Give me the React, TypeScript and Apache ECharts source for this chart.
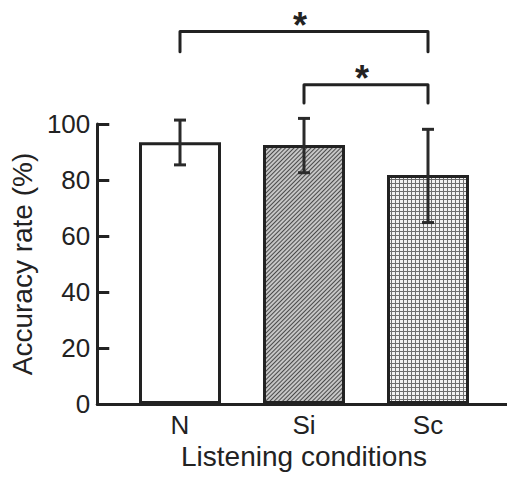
import React, { useEffect, useRef } from "react";
import * as echarts from "echarts";

const categories = ["N", "Si", "Sc"];
const meanValues = [93.5, 92.5, 81.8];
const errLow = [85.4, 82.6, 64.8];
const errHigh = [101.4, 102, 98.1];
const yTicks = [0, 20, 40, 60, 80, 100];
// significance brackets: [fromIndex, toIndex, level, armDrop]
const brackets = [
  [0, 2, 133, 7.2],
  [1, 2, 114, 6.5],
];

const FONT = "Liberation Sans, Arial, Helvetica, sans-serif";
const INK = "#222";

export default function App() {
  const ref = useRef<HTMLDivElement>(null);
  useEffect(() => {
    if (!ref.current) return;
    const chart = echarts.init(ref.current, undefined, { renderer: "svg" });
    const fills = [
      { color: "#ffffff" },
      {
        color: "#c6c6c6",
        decal: {
          symbol: "rect",
          color: "#4a4a4a",
          dashArrayX: [1, 0],
          dashArrayY: [1, 2],
          rotation: -Math.PI / 4,
        },
      },
      {
        color: "#6e6e6e",
        decal: {
          symbol: "rect",
          color: "#f2f2f2",
          dashArrayX: [3, 1],
          dashArrayY: [3, 1],
          rotation: 0,
        },
      },
    ];
    chart.setOption({
      animation: false,
      grid: [
        { left: 97, right: 0, top: 124, bottom: 74 },
        { left: 118, right: 17, top: 124, bottom: 74 },
      ],
      xAxis: [
        {
          gridIndex: 0,
          type: "value",
          min: 0,
          max: 1,
          axisLine: { show: true, lineStyle: { color: INK, width: 3 } },
          axisTick: { show: false },
          axisLabel: { show: false },
          splitLine: { show: false },
        },
        {
          gridIndex: 1,
          type: "category",
          data: categories,
          axisLine: { show: false },
          axisTick: { show: false },
          axisLabel: { color: INK, fontSize: 26, fontFamily: FONT, margin: 8 },
          name: "Listening conditions",
          nameLocation: "middle",
          nameGap: 35,
          nameTextStyle: { color: INK, fontSize: 28, fontFamily: FONT },
        },
      ],
      yAxis: [
        {
          gridIndex: 0,
          type: "value",
          min: yTicks[0],
          max: yTicks[yTicks.length - 1],
          interval: 20,
          axisLine: { show: true, lineStyle: { color: INK, width: 3 } },
          axisTick: { show: true, inside: true, length: 12, lineStyle: { color: INK, width: 3 } },
          axisLabel: { color: INK, fontSize: 26, fontFamily: FONT, margin: 7 },
          splitLine: { show: false },
          name: "Accuracy rate (%)",
          nameLocation: "middle",
          nameGap: 57,
          nameRotate: 90,
          nameTextStyle: { color: INK, fontSize: 28, fontFamily: FONT },
        },
        {
          gridIndex: 1,
          type: "value",
          min: 0,
          max: 100,
          show: false,
        },
      ],
      series: [
        {
          type: "bar",
          xAxisIndex: 1,
          yAxisIndex: 1,
          barWidth: 82,
          z: 2,
          data: meanValues.map((v, i) => ({
            value: v,
            itemStyle: { ...fills[i], borderColor: INK, borderWidth: 3 },
          })),
        },
        {
          type: "custom",
          xAxisIndex: 1,
          yAxisIndex: 1,
          clip: false,
          z: 10,
          data: categories.map((_, i) => [i, errLow[i], errHigh[i]]),
          renderItem: (params: any, api: any) => {
            const lo = api.coord([api.value(0), api.value(1)]);
            const hi = api.coord([api.value(0), api.value(2)]);
            const hw = 6;
            const style = { stroke: "#2a2a2a", lineWidth: 3, fill: "none" };
            return {
              type: "group",
              children: [
                { type: "line", shape: { x1: lo[0], y1: lo[1], x2: hi[0], y2: hi[1] }, style },
                { type: "line", shape: { x1: hi[0] - hw, y1: hi[1], x2: hi[0] + hw, y2: hi[1] }, style },
                { type: "line", shape: { x1: lo[0] - hw, y1: lo[1], x2: lo[0] + hw, y2: lo[1] }, style },
              ],
            };
          },
        },
        {
          type: "custom",
          xAxisIndex: 1,
          yAxisIndex: 1,
          clip: false,
          z: 10,
          data: brackets,
          renderItem: (params: any, api: any) => {
            const a = api.value(0);
            const b = api.value(1);
            const lvl = api.value(2);
            const drop = api.value(3);
            const p1 = api.coord([a, lvl - drop]);
            const p2 = api.coord([a, lvl]);
            const p3 = api.coord([b, lvl]);
            const p4 = api.coord([b, lvl - drop]);
            return {
              type: "group",
              children: [
                {
                  type: "polyline",
                  shape: { points: [p1, p2, p3, p4] },
                  style: { stroke: INK, lineWidth: 3, fill: "none", lineJoin: "round", lineCap: "round" },
                },
                {
                  type: "text",
                  x: (p2[0] + p3[0]) / 2 - 4,
                  y: p2[1] - 6,
                  style: {
                    text: "*",
                    fontSize: 36,
                    fontWeight: "bold",
                    fontFamily: FONT,
                    fill: INK,
                    align: "center",
                    verticalAlign: "middle",
                  },
                },
              ],
            };
          },
        },
      ],
    });
    return () => chart.dispose();
  }, []);
  return (
    <div
      ref={ref}
      style={{ position: "fixed", left: 0, top: 0, width: 507, height: 478, background: "#fff" }}
    />
  );
}
